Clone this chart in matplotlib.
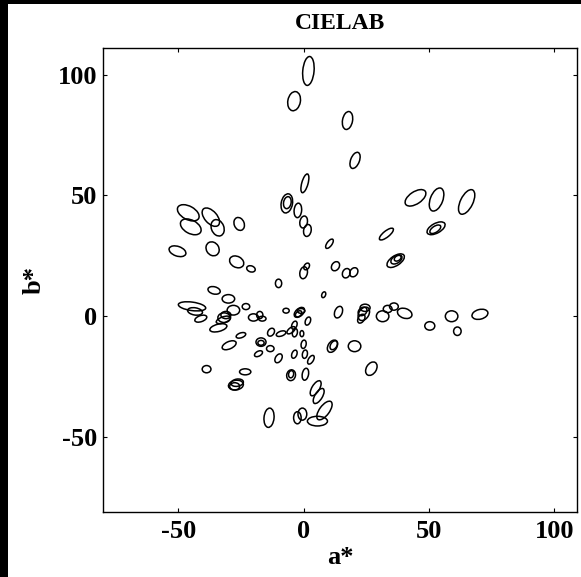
import matplotlib
matplotlib.use("Agg")
import matplotlib.pyplot as plt
from matplotlib.patches import Ellipse, Rectangle

# Ellipse data: centre a*, centre b*, major length, minor length, angle (deg)
center_a = [1.9, -3.8, 17.5, 20.5, 0.5, -6.7, -6.5, -2.3, 0.0, 1.5, 10.3, 33.0,
            44.6, 53.0, 65.0, 52.8, 52.5, 36.7, 37.0, 37.5, 0.0, 1.2, 12.7, 17.0,
            20.0, 8.0, -10.0, 13.9, 24.0, 23.5, 24.5, 23.0, 31.5, 33.5, 36.0, 40.3,
            50.3, 59.0, 61.3, 70.3, 11.5, 12.0, 20.3, 27.0,
            -46.0, -45.0, -37.0, -34.3, -25.7, -50.3, -36.3, -26.7, -21.0, -35.7,
            -30.0, -44.5, -43.3, -41.0, -31.7, -32.0, -31.0, -28.0, -34.0, -23.0,
            -20.0, -17.5, -16.5, -25.0, -29.7, -17.0, -17.0, -13.3, -18.0, -10.0,
            -3.7, -38.7, -23.3, -7.0, -13.0, -9.0, -5.0, -1.7, -2.0, -1.0, 1.7,
            -3.7, -3.5, -0.7, 0.0, 0.5, 2.9, 0.7, -5.0, -5.0,
            4.8, 6.0, 8.3, -0.5, -2.5, 5.5, -13.8, -27.0, -26.5, -27.5]
center_b = [101.5, 89.0, 81.0, 64.5, 55.0, 46.7, 47.0, 43.8, 39.0, 35.5, 30.0, 34.0,
            49.0, 48.3, 47.3, 36.4, 36.0, 23.0, 23.5, 24.0, 18.0, 20.6, 20.7, 17.8,
            18.2, 8.9, 13.6, 1.7, 1.0, 2.0, 3.5, -1.0, 0.0, 3.0, 4.0, 1.2,
            -4.0, 0.0, -6.2, 0.8, -12.4, -12.0, -12.4, -21.7,
            42.8, 37.0, 41.0, 36.6, 38.2, 26.9, 27.9, 22.5, 19.6, 10.7,
            7.2, 4.1, 2.0, -1.0, -0.6, -1.5, 0.5, 2.5, -4.8, 4.0,
            -0.5, 0.5, -1.0, -7.9, -12.0, -10.7, -11.0, -13.4, -15.5, -17.4,
            -15.7, -21.9, -23.0, 2.3, -6.6, -7.2, -5.8, 1.6, 1.0, 2.2, -2.0,
            -3.7, -6.8, -7.2, -11.6, -15.7, -18.0, -24.0, -24.4, -24.0,
            -29.8, -33.0, -39.0, -40.5, -42.0, -43.4, -42.0, -28.5, -27.5, -29.0]
major = [12, 8, 7.5, 7, 8, 8, 5, 6, 5, 5, 4.5, 7,
         9.5, 10, 11, 8, 5, 8, 5, 3, 5, 3, 4, 4,
         4, 2.5, 3.5, 5, 6, 4, 4, 4, 5, 3.5, 3.5, 6,
         4, 5, 3.5, 6.5, 5.5, 4, 5, 6,
         9.5, 9, 9, 7, 5.5, 7, 6, 6, 3.5, 5,
         5, 11, 6, 5, 5, 6, 4, 5, 7, 3,
         4, 3, 3, 4, 6, 4, 2.5, 3, 3.5, 4,
         3.5, 3.5, 4.5, 2.5, 3.5, 4, 4, 5, 3, 3, 3.5,
         3.5, 3.5, 2.5, 3.5, 3.5, 4, 5, 4.5, 3,
         7, 7, 9, 5, 5, 8, 8, 6, 5, 4]
minor = [4.5, 5, 4, 3.5, 2.5, 4.5, 3, 3, 3, 3, 2, 2.5,
         5, 5, 5, 4, 2.5, 4, 3, 2, 3, 2, 3, 3,
         3, 1.5, 2.5, 3, 4, 3, 3, 2.5, 4.5, 3, 3, 4,
         3.5, 4.5, 3, 4, 3.5, 2.5, 4.5, 4,
         5.5, 5.5, 5, 5, 4, 4, 5, 4.5, 2.5, 3,
         3.5, 3.5, 3, 2.5, 4, 2.5, 3, 4, 3, 2.5,
         3, 2.5, 2, 2, 3, 3.5, 2, 2.5, 2, 2.5,
         2, 3, 2.5, 2, 2.5, 2, 2, 3, 2, 2, 2,
         2, 2, 1.5, 2, 2, 2, 2.5, 3.5, 2,
         3, 3, 4, 3.5, 3, 4, 4, 4, 3, 3]
angle = [85, 80, 80, 70, 75, 80, 80, 85, 80, 80, 55, 40,
         35, 70, 65, 30, 35, 35, 35, 35, 80, 60, 60, 70,
         60, 70, 90, 70, 60, 45, 0, 60, 0, 0, 0, -20,
         0, 0, 90, 15, 60, 60, 0, 60,
         -30, -30, -50, -70, -70, -20, -60, -30, -20, -15,
         0, -8, -10, 20, 0, 20, 0, 0, 15, 0,
         0, 90, 0, 20, 25, 0, 0, 0, 30, 60,
         70, 0, 0, 0, 60, 20, 40, 45, 45, 0, 70,
         70, 80, 90, 80, 80, 60, 80, 80, 80,
         60, 60, 55, 90, 90, 0, 85, 10, 10, 0]

x_ticks = [-50, 0, 50, 100]
y_ticks = [-50, 0, 50, 100]

plt.rcParams['font.family'] = ['Liberation Serif', 'DejaVu Serif']
plt.rcParams['font.weight'] = 'bold'

fig = plt.figure(figsize=(5.81, 5.77), dpi=100)
fig.patch.set_facecolor('white')
# black border strips (left and top)
fig.patches.append(Rectangle((0, 0), 8 / 581, 1, transform=fig.transFigure,
                             facecolor='black', edgecolor='none', zorder=-10))
fig.patches.append(Rectangle((0, 1 - 4 / 577), 1, 4 / 577, transform=fig.transFigure,
                             facecolor='black', edgecolor='none', zorder=-10))

ax = fig.add_axes([103 / 581, 65 / 577, 474 / 581, 464 / 577])
for a, b, w, h, t in zip(center_a, center_b, major, minor, angle):
    ax.add_patch(Ellipse((a, b), w, h, angle=t, fill=False,
                         edgecolor='black', linewidth=1.1))

ax.set_xlim(-80, 109)
ax.set_ylim(-81, 111)
ax.set_xticks(x_ticks)
ax.set_yticks(y_ticks)
ax.set_xticklabels([str(v) for v in x_ticks])
ax.set_yticklabels([str(v) for v in y_ticks])
ax.tick_params(direction='in', length=3, width=0.8, top=True, right=True,
               labelsize=19)
ax.tick_params(axis='y', pad=4)
ax.tick_params(axis='x', pad=6)
for lab in ax.get_xticklabels() + ax.get_yticklabels():
    lab.set_fontweight('bold')
for s in ax.spines.values():
    s.set_linewidth(1.0)

ax.set_xlabel('a*', fontsize=19, fontweight='bold', labelpad=2)
ax.set_ylabel('b*', fontsize=19, fontweight='bold', labelpad=9)
ax.set_title('CIELAB', fontsize=17, fontweight='bold', pad=14)

fig.savefig('out.png', dpi=100)
